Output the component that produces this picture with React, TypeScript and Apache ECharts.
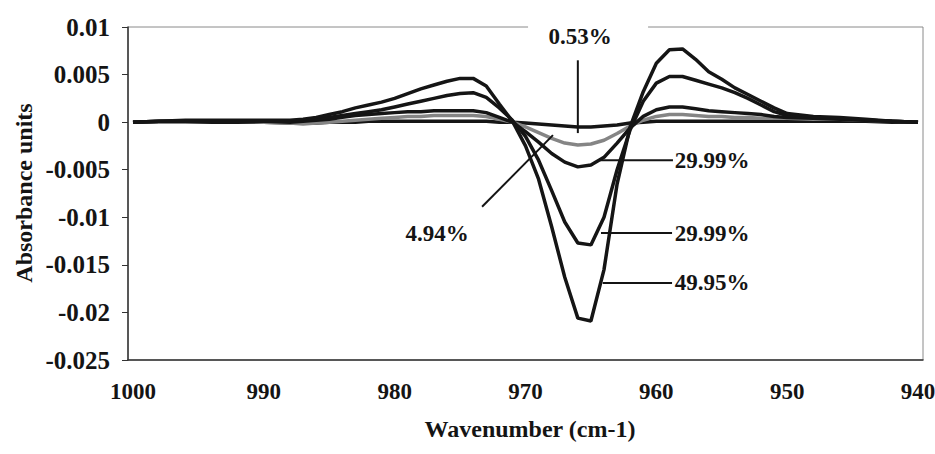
import React, { useEffect, useRef } from "react";
import * as echarts from "echarts";

const wavenumbers = [
  1000, 998, 996, 994, 992, 990, 988, 987, 986, 985, 984, 983, 982, 981, 980, 979, 978, 977, 976, 975,
  974, 973, 972, 971, 970, 969, 968, 967, 966, 965, 964, 963, 962, 961, 960, 959, 958, 957, 956, 955,
  954, 953, 952, 951, 950, 948, 946, 944, 942, 940,
];

const s4995 = [
  0.0, 0.0001, 0.0002, 0.0002, 0.0002, 0.0002, 0.0002, 0.0003, 0.0005, 0.0008, 0.0011, 0.0015, 0.0018, 0.0021, 0.0025, 0.003, 0.0035, 0.0039, 0.0043, 0.0046,
  0.0046, 0.0038, 0.0019, 0.0001, -0.0025, -0.006, -0.011, -0.0163, -0.0206, -0.0209, -0.0155, -0.0065, -0.0005, 0.0032, 0.0062, 0.0076, 0.0077, 0.0066, 0.0053, 0.0045,
  0.0036, 0.0029, 0.0022, 0.0015, 0.0009, 0.0006, 0.0005, 0.0003, 0.0001, 0.0,
];

const s2999b = [
  0.0, 0.0001, 0.0001, 0.0001, 0.0001, 0.0001, 0.0001, 0.0002, 0.0003, 0.0005, 0.0007, 0.0009, 0.0011, 0.0013, 0.0016, 0.0019, 0.0022, 0.0025, 0.0028, 0.003,
  0.0031, 0.0026, 0.0015, 0.0002, -0.0015, -0.004, -0.0072, -0.0105, -0.0127, -0.0129, -0.01, -0.005, -0.0008, 0.0022, 0.0041, 0.0048, 0.0048, 0.0044, 0.004, 0.0036,
  0.0031, 0.0025, 0.0018, 0.0011, 0.0007, 0.0005, 0.0004, 0.0002, 0.0001, 0.0,
];

const s2999a = [
  0.0, 0.0001, 0.0001, 0.0001, 0.0001, 0.0001, 0.0, 0.0001, 0.0002, 0.0003, 0.0005, 0.0007, 0.0008, 0.0009, 0.001, 0.0011, 0.0011, 0.0012, 0.0012, 0.0012,
  0.0012, 0.001, 0.0005, 0.0, -0.001, -0.0021, -0.0033, -0.0042, -0.0047, -0.0045, -0.0037, -0.0022, -0.0006, 0.0006, 0.0013, 0.0016, 0.0016, 0.0014, 0.0012, 0.0011,
  0.001, 0.0009, 0.0008, 0.0006, 0.0005, 0.0004, 0.0003, 0.0002, 0.0001, 0.0,
];

const s494 = [
  0.0, 0.0, 0.0, 0.0001, 0.0001, 0.0, -0.0001, -0.0002, -0.0001, 0.0, 0.0001, 0.0002, 0.0003, 0.0004, 0.0005, 0.0006, 0.0006, 0.0007, 0.0007, 0.0007,
  0.0007, 0.0006, 0.0003, 0.0, -0.0005, -0.0011, -0.0017, -0.0022, -0.0024, -0.0023, -0.0019, -0.0012, -0.0004, 0.0002, 0.0006, 0.0008, 0.0008, 0.0007, 0.0006, 0.0006,
  0.0005, 0.0005, 0.0004, 0.0004, 0.0004, 0.0003, 0.0003, 0.0002, 0.0001, 0.0,
];

const s053 = [
  0.0, 0.0, 0.0, 0.0, 0.0, 0.0, -0.0001, -0.0001, -0.0001, 0.0, 0.0, 0.0, 0.0001, 0.0001, 0.0001, 0.0001, 0.0001, 0.0001, 0.0001, 0.0001,
  0.0001, 0.0001, 0.0, 0.0, -0.0001, -0.0002, -0.0003, -0.0004, -0.0005, -0.0005, -0.0004, -0.0003, -0.0001, 0.0, 0.0001, 0.0001, 0.0001, 0.0001, 0.0001, 0.0001,
  0.0001, 0.0001, 0.0001, 0.0001, 0.0001, 0.0001, 0.0001, 0.0001, 0.0, 0.0,
];

const xTickLabels = [1000, 990, 980, 970, 960, 950, 940];
const yMin = -0.025;
const yMax = 0.01;
const yStep = 0.005;

const seriesDefs = [
  { name: "0.53%", values: s053, color: "#151515" },
  { name: "4.94%", values: s494, color: "#858585" },
  { name: "29.99% a", values: s2999a, color: "#151515" },
  { name: "29.99% b", values: s2999b, color: "#151515" },
  { name: "49.95%", values: s4995, color: "#151515" },
];

// annotation anchors in data units [wavenumber, absorbance]
const annotations = [
  { text: "0.53%", at: [965.83, 0.00905], align: "center", from: [966.0, 0.0065], to: [966.0, -0.00115], box: true },
  { text: "29.99%", at: [958.6, -0.004], align: "left", from: [964.3, -0.004], to: [958.73, -0.004], box: false },
  { text: "29.99%", at: [958.6, -0.01166], align: "left", from: [964.23, -0.01166], to: [958.8, -0.01166], box: false },
  { text: "49.95%", at: [958.6, -0.0169], align: "left", from: [964.1, -0.0169], to: [958.8, -0.0169], box: false },
  { text: "4.94%", at: [976.76, -0.0117], align: "center", from: [973.32, -0.0089], to: [967.9, -0.00136], box: false },
];

const FONT = "'Liberation Serif', 'Times New Roman', serif";
const INK = "#141414";

export default function App() {
  const ref = useRef<HTMLDivElement>(null);
  useEffect(() => {
    if (!ref.current) return;
    const chart = echarts.init(ref.current, undefined, { renderer: "svg" });
    const option: any = {
      animation: false,
      backgroundColor: "#ffffff",
      grid: {
        left: 128,
        right: 12,
        top: 27,
        bottom: 94,
        containLabel: false,
        outerBoundsMode: "none",
        show: true,
        borderColor: "#8a8a8a",
        borderWidth: 1,
        backgroundColor: "transparent",
      },
      xAxis: {
        type: "value",
        inverse: true,
        min: 939.62,
        max: 1000.38,
        axisLine: { show: true, onZero: false, lineStyle: { color: "#333", width: 1.5 } },
        axisTick: { show: false },
        splitLine: { show: false },
        axisLabel: {
          customValues: xTickLabels,
          margin: 20,
          fontFamily: FONT,
          fontWeight: "bold",
          fontSize: 23,
          color: INK,
          formatter: (v: number) => String(Math.round(v)),
        },
      },
      yAxis: {
        type: "value",
        min: yMin,
        max: yMax,
        interval: yStep,
        axisLine: { show: true, lineStyle: { color: "#333", width: 1.5 } },
        axisTick: { show: true, inside: false, length: 6, lineStyle: { color: "#333", width: 1 } },
        splitLine: { show: false },
        axisLabel: {
          margin: 18,
          fontFamily: FONT,
          fontWeight: "bold",
          fontSize: 25,
          color: INK,
          formatter: (v: number) => String(Math.round(v * 1000) / 1000 || 0),
        },
      },
      series: seriesDefs.map((s) => ({
        name: s.name,
        type: "line",
        symbol: "none",
        data: wavenumbers.map((w, i) => [w, s.values[i]]),
        lineStyle: { color: s.color, width: 3.5 },
        itemStyle: { color: s.color },
      })),
    };
    chart.setOption(option);

    const px = (p: number[]) => chart.convertToPixel({ gridIndex: 0 }, p) as number[];
    const graphics: any[] = [];
    annotations.forEach((a) => {
      const t = px(a.at);
      const f = px(a.from);
      const e = px(a.to);
      if (a.box) {
        graphics.push({
          type: "rect",
          z: 100,
          shape: { x: t[0] - 52, y: t[1] - 18, width: 120, height: 34 },
          style: { fill: "#ffffff" },
        });
      }
      graphics.push({
        type: "line",
        z: 101,
        shape: { x1: f[0], y1: f[1], x2: e[0], y2: e[1] },
        style: { stroke: INK, lineWidth: 2 },
      });
      graphics.push({
        type: "text",
        z: 102,
        x: t[0],
        y: t[1],
        style: {
          text: a.text,
          fill: INK,
          font: `bold 23px ${FONT}`,
          textAlign: a.align,
          textVerticalAlign: "middle",
        },
      });
    });
    graphics.push({
      type: "text",
      z: 102,
      x: 24,
      y: 193,
      rotation: Math.PI / 2,
      style: {
        text: "Absorbance units",
        fill: INK,
        font: `bold 24px ${FONT}`,
        textAlign: "center",
        textVerticalAlign: "middle",
      },
    });
    graphics.push({
      type: "text",
      z: 102,
      x: 530,
      y: 429,
      style: {
        text: "Wavenumber (cm-1)",
        fill: INK,
        font: `bold 24px ${FONT}`,
        textAlign: "center",
        textVerticalAlign: "middle",
      },
    });
    chart.setOption({ graphic: graphics });

    return () => chart.dispose();
  }, []);
  return (
    <div
      ref={ref}
      style={{ position: "fixed", left: 0, top: 0, width: 935, height: 454, background: "#fff" }}
    />
  );
}
